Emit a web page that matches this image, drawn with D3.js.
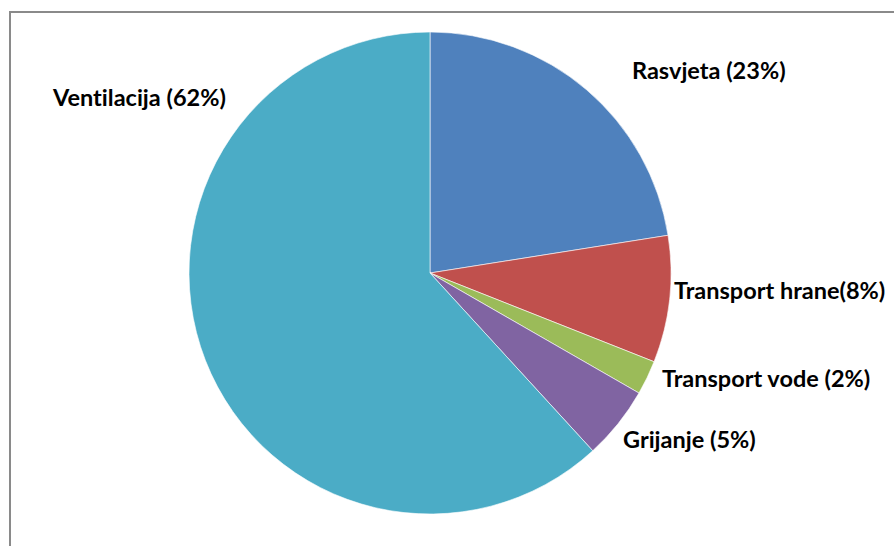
<!DOCTYPE html>
<html>
<head>
<meta charset="utf-8">
<script src="https://cdn.jsdelivr.net/npm/d3@7"></script>
<style>
  body { margin: 0; background: #fff; }
  svg { display: block; }
  .label { font-variant-ligatures: none; font-feature-settings: "liga" 0; }
</style>
</head>
<body>
<script>
// Chart data
var categories = ["Rasvjeta", "Transport hrane", "Transport vode", "Grijanje", "Ventilacija"];
var values = [22.5, 8.5, 2.3, 4.9, 61.8];
var labels = ["Rasvjeta (23%)", "Transport hrane(8%)", "Transport vode (2%)", "Grijanje (5%)", "Ventilacija (62%)"];
var colors = ["#4F81BD", "#C0504D", "#9BBB59", "#8064A2", "#4BACC6"];

// SVG size
var svgWidth = 894;
var svgHeight = 546;

var cx = 430, cy = 273, radius = 241;

// where each label starts (left edge, baseline), relative to the pie centre
var labelPos = [[202, -194], [244, 26], [232, 114], [193, 175], [-377, -167]];

var svg = d3.select("body")
  .append("svg")
  .attr("width", svgWidth)
  .attr("height", svgHeight);

// chart area border (cut off at the right and bottom)
svg.append("rect")
  .attr("x", 10)
  .attr("y", 12)
  .attr("width", 1000)
  .attr("height", 1000)
  .attr("fill", "none")
  .attr("stroke", "#8a8a8a")
  .attr("stroke-width", 2);

var pie = d3.pie().sort(null).value(d => d);
var arc = d3.arc().innerRadius(0).outerRadius(radius);

var pieGroup = svg.append("g")
  .attr("transform", `translate(${cx}, ${cy})`);

var arcs = pie(values);

pieGroup.selectAll(".slice")
  .data(arcs)
  .enter()
  .append("path")
  .attr("class", "slice")
  .attr("d", arc)
  .attr("fill", (d, i) => colors[i])
  .attr("stroke", "#ffffff")
  .attr("stroke-width", 0.6);

pieGroup.selectAll(".label")
  .data(arcs)
  .enter()
  .append("text")
  .attr("class", "label")
  .attr("x", (d, i) => labelPos[i][0])
  .attr("y", (d, i) => labelPos[i][1])
  .attr("text-anchor", "start")
  .attr("font-family", "Lato, 'Open Sans', sans-serif")
  .attr("font-weight", "bold")
  .attr("font-size", "23.5px")
  .attr("fill", "#000")
  .text((d, i) => labels[i]);
</script>
</body>
</html>
